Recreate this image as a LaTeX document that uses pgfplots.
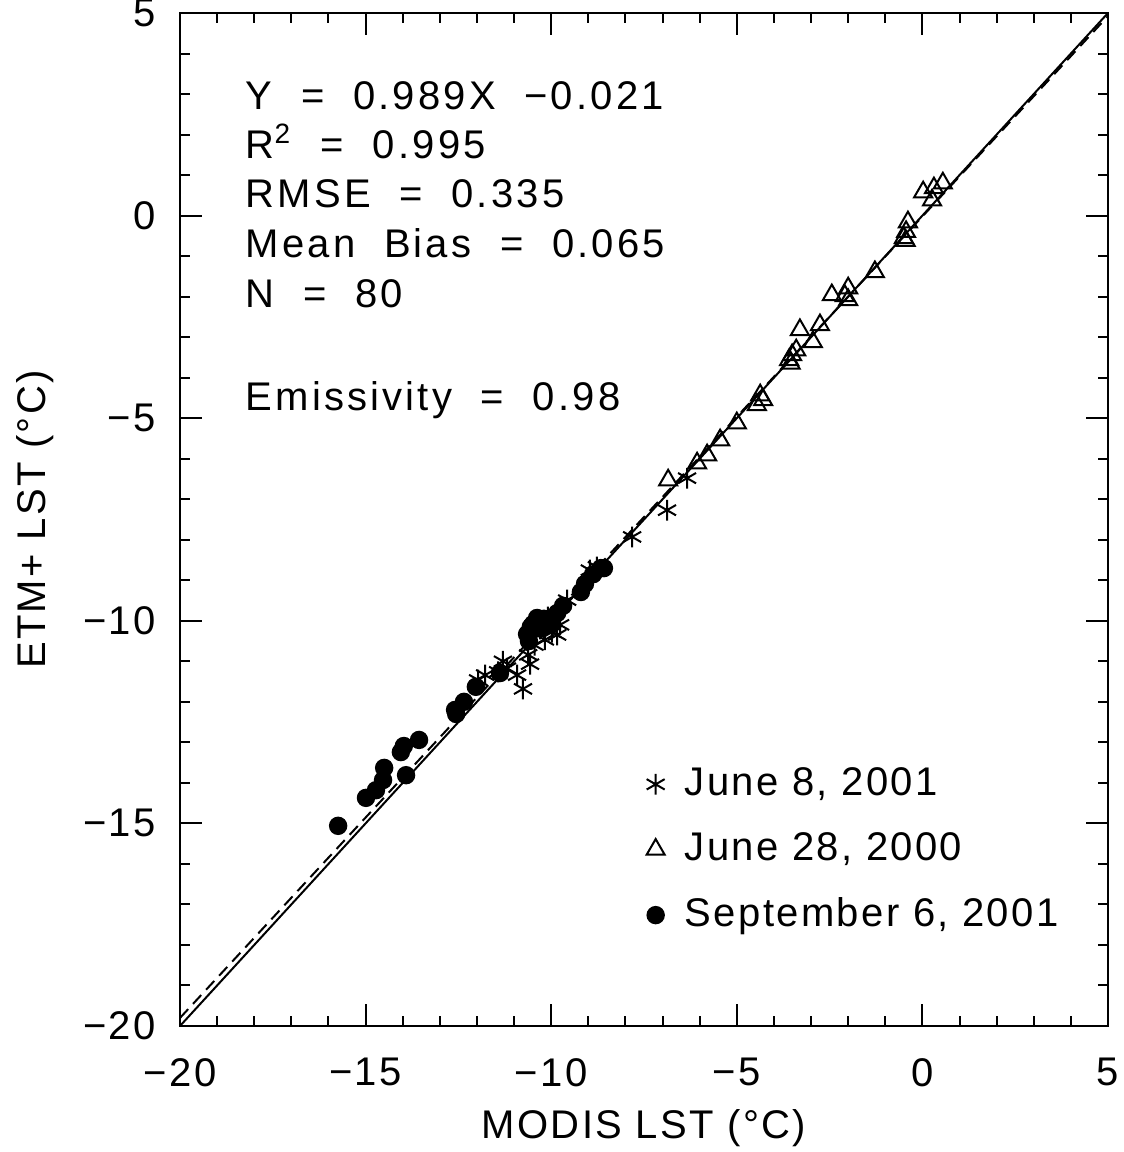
\documentclass[border=0pt]{standalone}
\usepackage{pgfplots}
\pgfplotsset{compat=1.18}
\usepackage{fontspec}
\setmainfont{Liberation Sans}[LetterSpace=6]
\newfontfamily\anno{Liberation Sans}[LetterSpace=8, WordSpace=2]
\begin{document}
\begin{tikzpicture}
\begin{axis}[name=ax,
  scale only axis, width=232pt, height=253.25pt,
  xmin=-20, xmax=5, ymin=-20, ymax=5,
  xtick={-20,-15,-10,-5,0,5}, ytick={-20,-15,-10,-5,0,5},
  xticklabels={−20,−15,−10,−5,0,5}, yticklabels={−20,−15,−10,−5,0,5},
  minor tick num=4,
  tick align=inside, xtick pos=both, ytick pos=both,
  major tick length=5.5pt, minor tick length=2.5pt,
  every tick/.style={black, line width=0.5pt},
  axis line style={line width=0.5pt},
  font=\fontsize{10}{12}\selectfont,
  tick label style={font=\fontsize{10}{12}\selectfont},
  xticklabel style={yshift=-4.5pt},
  yticklabel style={xshift=-2.5pt},
  xlabel={MODIS LST (°C)}, ylabel={ETM+ LST (°C)},
  xlabel style={yshift=1pt}, ylabel style={yshift=0.5pt},
  legend style={draw=none, fill=none, at={(axis cs:-7.45,-13.4)}, anchor=north west,
    row sep=3.8pt, font=\fontsize{10}{12}\selectfont, inner sep=0pt,
    /tikz/every odd column/.append style={column sep=3pt}},
  legend cell align=left,
  clip=true,
]
\addplot[black, line width=0.5pt, forget plot] coordinates {(-20,-20) (5,5)};
\addplot[black, line width=0.5pt, dash pattern=on 3pt off 1.8pt, forget plot] coordinates {(-20,-19.801) (5,4.924)};
% June 8, 2001
\addplot[only marks, mark=asterisk, mark size=2.6pt, black, mark options={line width=0.5pt}] coordinates {
(-11.97,-11.46) (-11.78,-11.34) (-11.43,-11.26) (-11.19,-11.17) (-10.92,-11.34)
(-10.76,-11.68) (-10.57,-11.07) (-10.62,-10.84) (-10.17,-10.47) (-9.98,-10.28)
(-9.84,-10.35) (-9.76,-10.10) (-10.09,-9.91) (-9.57,-9.49) (-8.96,-8.75)
(-8.77,-8.67) (-7.82,-7.93) (-6.88,-7.27) (-6.34,-6.48) (-10.45,-10.6)
(-11.3,-11.0) (-10.3,-10.2)
};
\addlegendentry{June 8, 2001}
% June 28, 2000
\addplot[only marks, mark=triangle, mark size=2.6pt, black, mark options={line width=0.5pt, fill=white}] coordinates {
(-6.85,-6.53) (-6.07,-6.11) (-5.80,-5.91) (-5.45,-5.54) (-5.00,-5.12)
(-4.46,-4.67) (-4.29,-4.55) (-4.37,-4.43) (-3.59,-3.56) (-3.51,-3.44)
(-3.40,-3.32) (-3.30,-2.82) (-2.95,-3.12) (-2.76,-2.70) (-2.44,-1.96)
(-2.00,-1.79) (-2.00,-2.08) (-2.09,-1.98) (-1.28,-1.39) (-0.50,-0.55)
(-0.44,-0.40) (-0.39,-0.16) (0.02,0.58) (0.26,0.38) (0.31,0.68)
(0.55,0.80) (-3.55,-3.65) (-0.45,-0.62)
};
\addlegendentry{June 28, 2000}
% September 6, 2001
\addplot[only marks, mark=*, mark size=2.1pt, black] coordinates {
(-15.74,-15.06) (-14.99,-14.37) (-14.72,-14.18) (-14.53,-13.93) (-14.50,-13.63)
(-14.05,-13.24) (-13.97,-13.09) (-13.91,-13.81) (-13.56,-12.94) (-12.59,-12.20)
(-12.56,-12.30) (-12.35,-12.00) (-12.03,-11.63) (-11.38,-11.29) (-10.65,-10.33)
(-10.49,-10.08) (-10.38,-9.93) (-10.30,-10.18) (-10.17,-10.03) (-9.84,-9.81)
(-9.68,-9.63) (-9.20,-9.29) (-9.09,-9.09) (-8.87,-8.85) (-8.66,-8.70)
(-8.58,-8.70) (-10.55,-10.15) (-10.2,-9.95) (-10.6,-10.5) (-10.0,-10.1)
};
\addlegendentry{September 6, 2001}
\begin{scope}[every node/.style={anchor=base west, inner sep=0pt, font=\anno\fontsize{10}{12}\selectfont}]
\node at (axis cs:-18.25,2.606) {Y = 0.989X −0.021};
\node at (axis cs:-18.25,1.42) {R\textsuperscript{2} = 0.995};
\node at (axis cs:-18.25,0.188) {RMSE = 0.335};
\node at (axis cs:-18.25,-1.046) {Mean Bias = 0.065};
\node at (axis cs:-18.25,-2.28) {N = 80};
\node at (axis cs:-18.25,-4.80) {Emissivity = 0.98};
\end{scope}
\end{axis}
\pgfresetboundingbox
\path ([shift={(-45pt,-31.5pt)}]ax.south west) rectangle ([shift={(3.75pt,3.25pt)}]ax.north east);
\end{tikzpicture}
\end{document}
